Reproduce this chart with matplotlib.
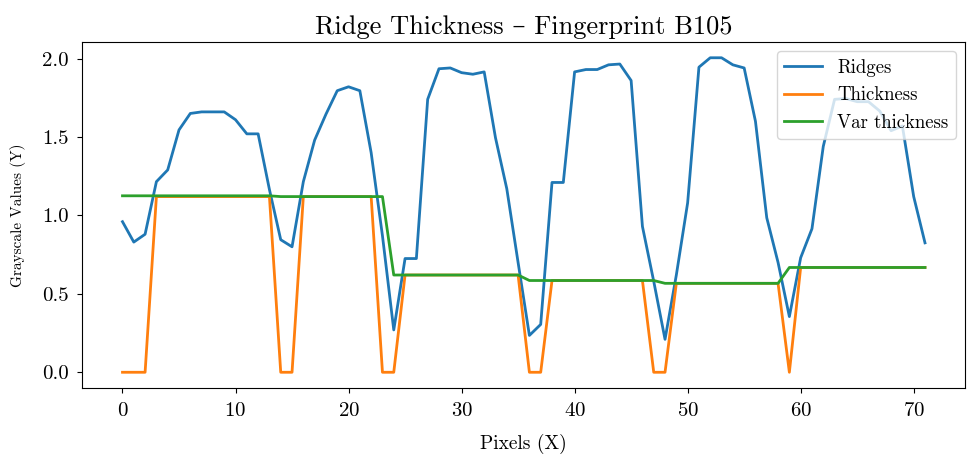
import matplotlib
matplotlib.use("Agg")
import matplotlib.pyplot as plt
import numpy as np

# Pixel positions along the scan line
pixels = np.arange(72)

# Grayscale profile across the ridges
ridges = [0.96, 0.83, 0.88, 1.215, 1.29, 1.545, 1.65, 1.66, 1.66, 1.66,
          1.61, 1.52, 1.52, 1.165, 0.845, 0.80, 1.215, 1.48, 1.645, 1.795,
          1.82, 1.795, 1.40, 0.87, 0.27, 0.725, 0.725, 1.74, 1.935, 1.94,
          1.91, 1.90, 1.915, 1.495, 1.17, 0.70, 0.235, 0.305, 1.21, 1.21,
          1.915, 1.93, 1.93, 1.96, 1.965, 1.86, 0.93, 0.58, 0.21, 0.62,
          1.08, 1.945, 2.005, 2.005, 1.96, 1.94, 1.60, 0.985, 0.70, 0.355,
          0.73, 0.915, 1.44, 1.74, 1.745, 1.725, 1.725, 1.665, 1.54, 1.57,
          1.12, 0.825]

# Per-pixel ridge thickness (zero in the valleys)
thickness = ([0.0] * 3 + [1.12] * 11 + [0.0] * 2 + [1.12] * 7 + [0.0] * 2
             + [0.62] * 11 + [0.0] * 2 + [0.585] * 9 + [0.0] * 2
             + [0.567] * 10 + [0.0] + [0.668] * 12)

# Smoothed thickness carried across the valleys
var_thickness = ([1.125] * 14 + [1.12] * 10 + [0.62] * 12 + [0.585] * 12
                 + [0.567] * 11 + [0.668] * 13)

plt.rcParams['font.family'] = ['cmr10', 'DejaVu Serif']
plt.rcParams['mathtext.fontset'] = 'cm'
plt.rcParams['axes.formatter.use_mathtext'] = True

fig, ax = plt.subplots(figsize=(9.69, 4.57), dpi=100)
fig.subplots_adjust(left=0.085, right=0.996, top=0.908, bottom=0.151)

ax.plot(pixels, ridges, color='#1f77b4', lw=2, label='Ridges')
ax.plot(pixels, thickness, color='#ff7f0e', lw=2, label='Thickness')
ax.plot(pixels, var_thickness, color='#2ca02c', lw=2, label='Var thickness')

ax.set_xticks(np.arange(0, 71, 10))
ax.set_yticks(np.arange(0, 2.01, 0.5))
ax.yaxis.set_major_formatter(matplotlib.ticker.FormatStrFormatter('%.1f'))
ax.tick_params(labelsize=15, pad=6.5)

ax.set_title('Ridge Thickness – Fingerprint B105', fontsize=19)
ax.set_xlabel('Pixels (X)', fontsize=14, labelpad=10)
ax.set_ylabel('Grayscale Values (Y)', fontsize=11, labelpad=11)
ax.legend(loc='upper right', fontsize=13.5)

fig.savefig('out.png', dpi=100)
